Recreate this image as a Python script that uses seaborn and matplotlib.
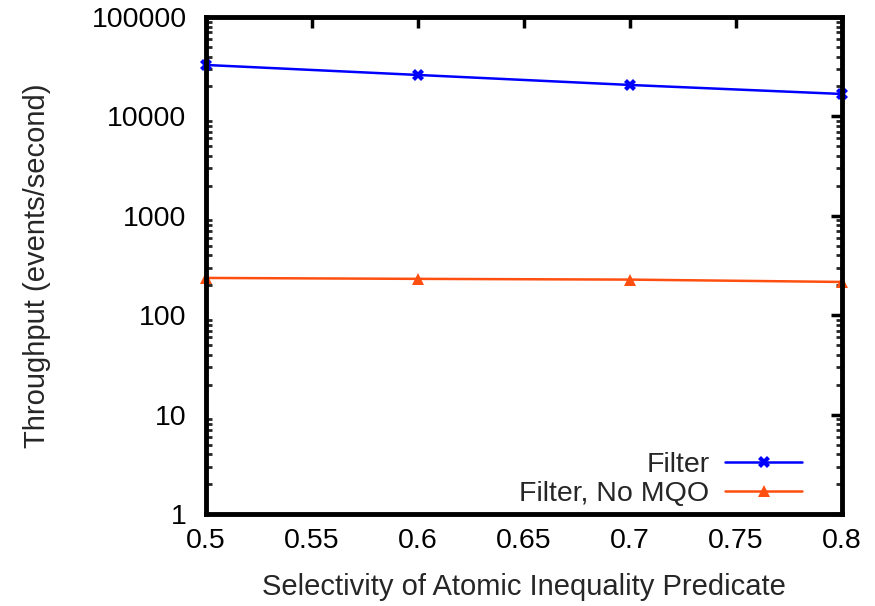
import matplotlib
matplotlib.use("Agg")
import matplotlib.pyplot as plt
import seaborn as sns
import pandas as pd
from matplotlib.ticker import LogLocator, FixedLocator, NullFormatter, FuncFormatter

selectivity = [0.5, 0.6, 0.7, 0.8]
filter_tp = [32900, 26100, 20700, 16800]
nomqo_tp = [237, 232, 228, 216]
series_names = ["Filter", "Filter, No MQO"]
x_ticks = [0.5, 0.55, 0.6, 0.65, 0.7, 0.75, 0.8]
y_ticks = [1, 10, 100, 1000, 10000, 100000]

df = pd.DataFrame({
    "x": selectivity * 2,
    "y": filter_tp + nomqo_tp,
    "series": [series_names[0]] * 4 + [series_names[1]] * 4,
})

sns.set_theme(style="white")
plt.rcParams["font.family"] = ["Liberation Sans", "DejaVu Sans"]

fig = plt.figure(figsize=(8.75, 6.06), dpi=100)
ax = fig.add_axes([0.2354, 0.1518, 0.7269, 0.8202])

palette = {series_names[0]: "#0000ff", series_names[1]: "#ff4f10"}
markers = {series_names[0]: "X", series_names[1]: "^"}
sns.lineplot(data=df, x="x", y="y", hue="series", style="series",
             palette=palette, markers=markers, dashes=False, ax=ax,
             linewidth=1.8, markersize=8.5, markeredgewidth=0,
             legend=False, clip_on=False)

ax.set_yscale("log")
ax.set_xlim(0.5, 0.8)
ax.set_ylim(1, 100000)
ax.xaxis.set_major_locator(FixedLocator(x_ticks))
ax.xaxis.set_major_formatter(FuncFormatter(lambda v, p: ("%g" % v)))
ax.yaxis.set_major_locator(FixedLocator(y_ticks))
ax.yaxis.set_major_formatter(FuncFormatter(lambda v, p: "%d" % v))
ax.yaxis.set_minor_locator(LogLocator(base=10, subs=range(2, 10)))
ax.yaxis.set_minor_formatter(NullFormatter())

for s in ax.spines.values():
    s.set_linewidth(3.5)
    s.set_color("black")

ax.tick_params(axis="both", which="major", direction="in", length=8, width=2.5,
               top=True, right=True, labelsize=20.5, colors="black")
ax.tick_params(axis="y", which="major", pad=14)
ax.tick_params(axis="x", which="major", pad=10)
ax.tick_params(axis="y", which="minor", direction="in", length=4, width=2,
               left=True, right=True)
ax.tick_params(axis="x", which="minor", bottom=False, top=False)

ax.set_xlabel("Selectivity of Atomic Inequality Predicate", fontsize=21, labelpad=14)
ax.set_ylabel("Throughput (events/second)", fontsize=21, labelpad=29)

handles = [
    plt.Line2D([], [], color="#0000ff", marker="X", markersize=8.5, linewidth=1.8, markeredgewidth=0),
    plt.Line2D([], [], color="#ff4f10", marker="^", markersize=8.5, linewidth=1.8, markeredgewidth=0),
]
ax.legend(handles, series_names, loc="lower right", frameon=False, markerfirst=False,
          fontsize=20.5, handlelength=2.7, handletextpad=0.55, labelspacing=0.1,
          borderaxespad=0.2, bbox_to_anchor=(0.964, -0.02))

fig.savefig("out.png", dpi=100)
